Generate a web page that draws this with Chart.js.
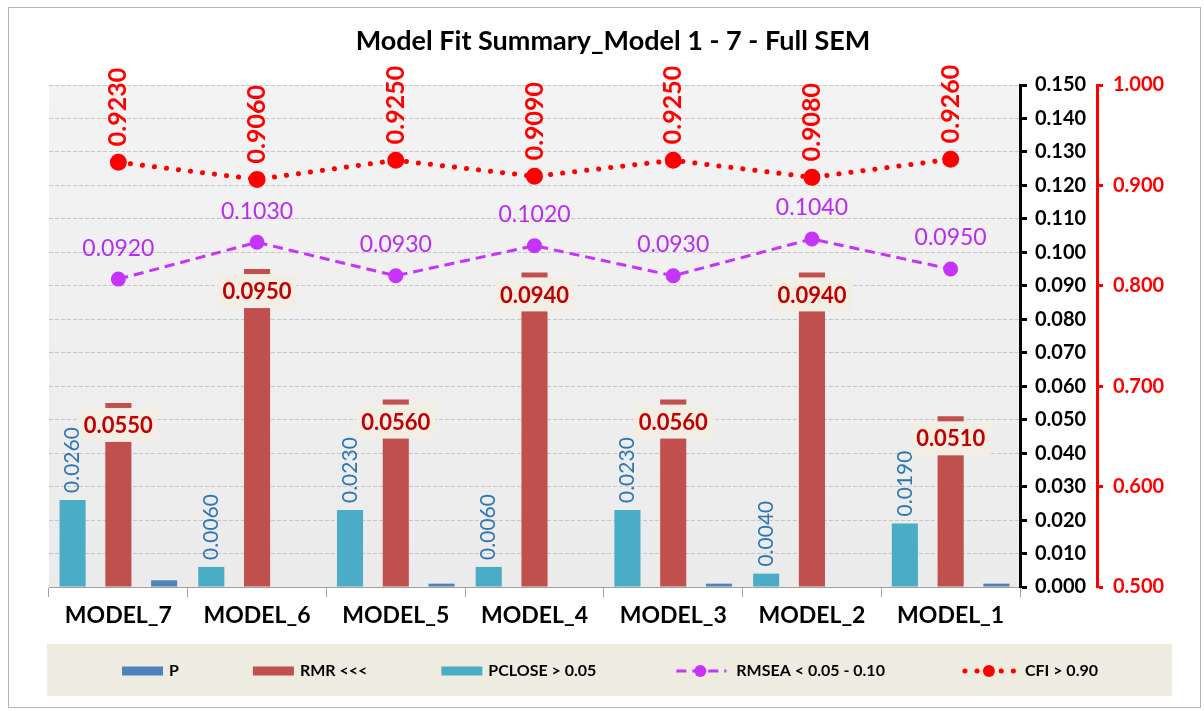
<!DOCTYPE html>
<html><head><meta charset="utf-8">
<script src="https://cdn.jsdelivr.net/npm/chart.js@4/dist/chart.umd.min.js"></script>
<style>html,body{margin:0;padding:0;background:#fff;}#wrap{width:1204px;height:711px;}</style>
</head><body><div id="wrap"><canvas id="c" width="1204" height="711"></canvas></div>
<script>
const categories = ['MODEL_7','MODEL_6','MODEL_5','MODEL_4','MODEL_3','MODEL_2','MODEL_1'];
const pValues      = [0.002, 0.000, 0.001, 0.000, 0.001, 0.000, 0.001];
const rmrValues    = [0.055, 0.095, 0.056, 0.094, 0.056, 0.094, 0.051];
const pcloseValues = [0.026, 0.006, 0.023, 0.006, 0.023, 0.004, 0.019];
const rmseaValues  = [0.092, 0.103, 0.093, 0.102, 0.093, 0.104, 0.095];
const cfiValues    = [0.923, 0.906, 0.925, 0.909, 0.925, 0.908, 0.926];
const leftAxisRange  = [0, 0.15, 0.01];
const rightAxisRange = [0.5, 1.0, 0.1];
const titleText = 'Model Fit Summary_Model 1 - 7 - Full SEM';

const FONT = 'Lato';

const bgPlugin = {
  id: 'bg',
  beforeDraw(chart) {
    const ctx = chart.ctx, a = chart.chartArea;
    ctx.save();
    ctx.fillStyle = '#ffffff';
    ctx.fillRect(0, 0, chart.width, chart.height);
    ctx.strokeStyle = '#b4b4b4';
    ctx.lineWidth = 1;
    ctx.strokeRect(8.5, 7.5, 1192, 700);
    const g = ctx.createLinearGradient(0, a.top, 0, a.bottom);
    g.addColorStop(0, '#f3f3f3');
    g.addColorStop(1, '#ebebeb');
    ctx.fillStyle = g;
    ctx.fillRect(a.left, a.top, a.right - a.left, a.bottom - a.top);
    ctx.restore();
  }
};

const valuePlugin = {
  id: 'vals',
  afterDatasetsDraw(chart) {
    const ctx = chart.ctx;
    chart.data.datasets.forEach((ds, i) => {
      const meta = chart.getDatasetMeta(i);
      if (!ds.lbl) return;
      meta.data.forEach((el, j) => {
        const t = ds.data[j].toFixed(4);
        ctx.save();
        if (ds.lbl === 'pclose') {
          ctx.translate(el.x, el.y - 7);
          ctx.rotate(-Math.PI / 2);
          ctx.font = '21px ' + FONT;
          ctx.fillStyle = '#2e75b6';
          ctx.textAlign = 'left';
          ctx.textBaseline = 'middle';
          ctx.fillText(t, 0, 0);
        } else if (ds.lbl === 'rmr') {
          ctx.font = 'bold 22px ' + FONT;
          const w = ctx.measureText(t).width;
          ctx.fillStyle = '#f2eee4';
          ctx.fillRect(el.x - w / 2 - 5, el.y + 5, w + 10, 34);
          ctx.fillStyle = '#c00000';
          ctx.textAlign = 'center';
          ctx.textBaseline = 'middle';
          ctx.fillText(t, el.x, el.y + 23);
        } else if (ds.lbl === 'rmsea') {
          ctx.font = '23px ' + FONT;
          ctx.fillStyle = '#b82cf2';
          ctx.textAlign = 'center';
          ctx.textBaseline = 'middle';
          ctx.fillText(t, el.x, el.y - 31);
        } else if (ds.lbl === 'cfi') {
          ctx.translate(el.x, el.y - 16);
          ctx.rotate(-Math.PI / 2);
          ctx.font = 'bold 25px ' + FONT;
          ctx.fillStyle = '#ff0000';
          ctx.textAlign = 'left';
          ctx.textBaseline = 'middle';
          ctx.fillText(t, 0, 0);
        }
        ctx.restore();
      });
    });
  }
};

const legendPlugin = {
  id: 'customLegend',
  afterDraw(chart) {
    const ctx = chart.ctx;
    ctx.save();
    ctx.fillStyle = '#eeece1';
    ctx.fillRect(47, 644, 1125, 52);
    const order = [2, 1, 0, 3, 4];
    ctx.font = 'bold 16px ' + FONT;
    const items = order.map(i => {
      const ds = chart.data.datasets[i];
      const sw = ds.type === 'line' ? 60 : 41;
      return { ds, sw, tw: ctx.measureText(ds.label).width };
    });
    const gap = 74, inner = 6;
    const total = items.reduce((a, it) => a + it.sw + inner + it.tw, 0) + gap * (items.length - 1);
    let x = 610 - total / 2;
    const cy = 671;
    items.forEach(it => {
      const ds = it.ds;
      if (ds.type === 'line') {
        ctx.save();
        ctx.strokeStyle = ds.borderColor;
        ctx.lineWidth = ds.borderWidth;
        ctx.lineCap = ds.borderCapStyle || 'butt';
        ctx.setLineDash(ds.borderDash || []);
        ctx.beginPath();
        ctx.moveTo(x + 6, cy);
        ctx.lineTo(x + it.sw - 4, cy);
        ctx.stroke();
        ctx.setLineDash([]);
        ctx.fillStyle = ds.pointBackgroundColor;
        ctx.beginPath();
        ctx.arc(x + it.sw / 2, cy, ds.pointRadius, 0, Math.PI * 2);
        ctx.fill();
        ctx.restore();
      } else {
        ctx.fillStyle = ds.backgroundColor;
        ctx.fillRect(x, cy - 4.5, it.sw, 9);
      }
      ctx.fillStyle = '#000';
      ctx.textAlign = 'left';
      ctx.textBaseline = 'middle';
      ctx.fillText(ds.label, x + it.sw + inner, cy);
      x += it.sw + inner + it.tw + gap;
    });
    ctx.restore();
  }
};

new Chart(document.getElementById('c'), {
  data: {
    labels: categories,
    datasets: [
      { type: 'bar', label: 'PCLOSE > 0.05', data: pcloseValues, backgroundColor: '#4bacc6', yAxisID: 'y', order: 2, lbl: 'pclose' },
      { type: 'bar', label: 'RMR <<<', data: rmrValues, backgroundColor: '#c0504d', yAxisID: 'y', order: 2, lbl: 'rmr' },
      { type: 'bar', label: 'P', data: pValues, backgroundColor: '#4f81bd', yAxisID: 'y', order: 2 },
      { type: 'line', label: 'RMSEA < 0.05 - 0.10', data: rmseaValues, borderColor: '#c633fb', borderWidth: 3,
        borderDash: [10, 6], pointRadius: 6, pointBackgroundColor: '#c633fb', pointBorderColor: '#c633fb',
        yAxisID: 'y', order: 1, lbl: 'rmsea', tension: 0 },
      { type: 'line', label: 'CFI > 0.90', data: cfiValues, borderColor: '#ff0000', borderWidth: 5,
        borderDash: [0.1, 12], borderCapStyle: 'round', pointRadius: 6, pointBackgroundColor: '#ff0000', pointBorderColor: '#ff0000',
        yAxisID: 'y2', order: 0, lbl: 'cfi', tension: 0 }
    ]
  },
  options: {
    responsive: false,
    animation: false,
    devicePixelRatio: 1,
    datasets: { bar: { categoryPercentage: 0.99, barPercentage: 0.57 } },
    layout: { padding: { left: 49, right: 27, top: 0, bottom: 75 } },
    plugins: {
      legend: { display: false },
      tooltip: { enabled: false },
      title: { display: true, text: titleText, color: '#000',
        font: { family: FONT, size: 27, weight: 'bold' }, padding: { top: 25, bottom: 27.6 } }
    },
    scales: {
      x: {
        grid: { offset: true, drawOnChartArea: false, color: '#a0a0a0', tickLength: 10 },
        border: { color: '#a0a0a0' },
        ticks: { color: '#000', font: { family: FONT, size: 23, weight: 'bold' }, padding: 5, maxRotation: 0 },
        afterFit(s) { s.height = 49; }
      },
      y: {
        position: 'right', min: leftAxisRange[0], max: leftAxisRange[1],
        ticks: { stepSize: leftAxisRange[2], callback: v => v.toFixed(3), color: '#000',
          font: { family: FONT, size: 20, weight: 'bold' }, padding: 8 },
        grid: { color: '#c6c6c6', lineWidth: 1, tickColor: '#000', tickWidth: 3, tickLength: 7 },
        border: { color: '#000', width: 3, dash: [4, 2] },
        afterFit(s) { s.width = 77; }
      },
      y2: {
        position: 'right', min: rightAxisRange[0], max: rightAxisRange[1],
        ticks: { stepSize: rightAxisRange[2], callback: v => v.toFixed(3), color: '#ff0000',
          font: { family: FONT, size: 20, weight: 'bold' }, padding: 10 },
        grid: { drawOnChartArea: false, tickColor: '#ff0000', tickWidth: 3, tickLength: 6 },
        border: { color: '#ff0000', width: 3 },
        afterFit(s) { s.width = 80; }
      }
    }
  },
  plugins: [bgPlugin, valuePlugin, legendPlugin]
});
</script></body></html>
